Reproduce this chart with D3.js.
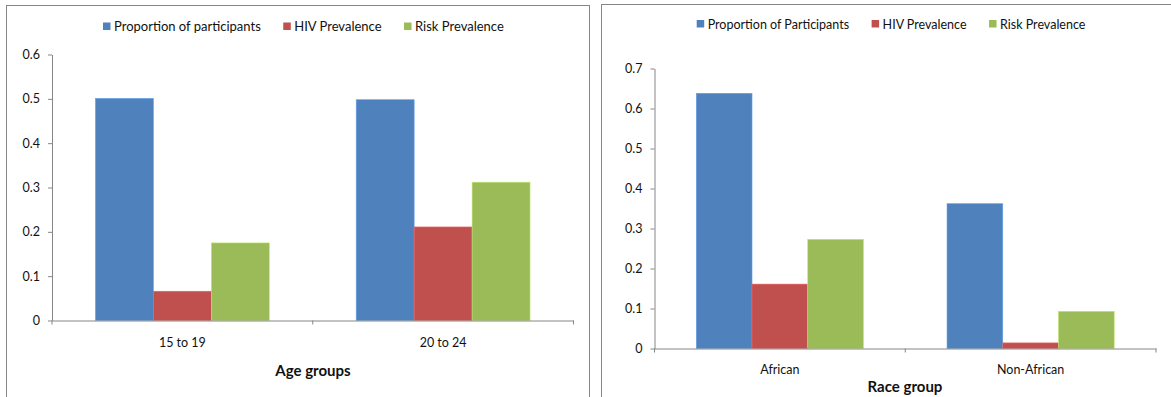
<!DOCTYPE html>
<html>
<head>
<meta charset="utf-8">
<script src="https://cdn.jsdelivr.net/npm/d3@7"></script>
<style>
  html, body { margin: 0; padding: 0; background: #fff; }
  svg { display: block; }
  text { font-family: Lato, "Open Sans", sans-serif; fill: #111; }
</style>
</head>
<body>
<svg id="chart" width="1171" height="397"></svg>
<script>
// Series names shared by both panels
const seriesNames = ["Proportion of participants", "HIV Prevalence", "Risk Prevalence"];
const seriesNamesRace = ["Proportion of Participants", "HIV Prevalence", "Risk Prevalence"];
const seriesColors = ["#4F81BD", "#C0504D", "#9BBB59"];

// Age panel
const ageGroups = ["15 to 19", "20 to 24"];
const ageProportion = [0.501, 0.498];
const ageHIV = [0.066, 0.211];
const ageRisk = [0.175, 0.312];
const ageTicks = [0, 0.1, 0.2, 0.3, 0.4, 0.5, 0.6];

// Race panel
const raceGroups = ["African", "Non-African"];
const raceProportion = [0.638, 0.362];
const raceHIV = [0.161, 0.014];
const raceRisk = [0.273, 0.093];
const raceTicks = [0, 0.1, 0.2, 0.3, 0.4, 0.5, 0.6, 0.7];

const svg = d3.select("#chart");
const axisColor = "#868686";

function drawPanel(cfg) {
  const g = svg.append("g");

  // outer frame
  g.append("rect")
    .attr("x", cfg.frame.x).attr("y", cfg.frame.y)
    .attr("width", cfg.frame.w).attr("height", cfg.frame.h)
    .attr("fill", "#fff").attr("stroke", axisColor).attr("stroke-width", 1);

  const x = d3.scaleBand().domain(cfg.categories).range([cfg.x0, cfg.x1]).padding(0);
  const xs = d3.scaleBand().domain(d3.range(cfg.series.length))
    .range([0, x.bandwidth()]).paddingInner(0).paddingOuter(0.75);
  const y = d3.scaleLinear().domain([0, d3.max(cfg.ticks)]).range([cfg.yZero, cfg.yTop]);

  // bars
  cfg.series.forEach((vals, si) => {
    g.append("g").selectAll("rect")
      .data(vals)
      .join("rect")
      .attr("x", (d, i) => x(cfg.categories[i]) + xs(si))
      .attr("width", xs.bandwidth())
      .attr("y", d => y(d))
      .attr("height", d => y(0) - y(d))
      .attr("fill", seriesColors[si])
      .attr("stroke", d3.color(seriesColors[si]).brighter(0.6))
      .attr("stroke-width", 0.6);
  });

  // y axis
  const yAxis = g.append("g")
    .attr("transform", `translate(${cfg.x0},0)`)
    .call(d3.axisLeft(y).tickValues(cfg.ticks).tickSize(4).tickSizeOuter(0)
      .tickPadding(8).tickFormat(d => d === 0 ? "0" : d3.format(".1f")(d)));
  yAxis.select(".domain").attr("stroke", axisColor);
  yAxis.selectAll(".tick line").attr("stroke", axisColor);
  yAxis.selectAll(".tick text").style("font-size", "12.5px").attr("fill", "#111");

  // x axis
  const xAxis = g.append("g")
    .attr("transform", `translate(0,${cfg.yZero})`)
    .call(d3.axisBottom(x).tickSize(0).tickSizeOuter(0).tickFormat(""));
  xAxis.select(".domain").attr("stroke", axisColor);
  xAxis.selectAll(".tick").remove();
  // boundary ticks between categories
  const bounds = [cfg.x0, ...cfg.categories.map(c => x(c) + x.bandwidth())];
  xAxis.selectAll("line.bound").data(bounds).join("line")
    .attr("class", "bound")
    .attr("x1", d => d).attr("x2", d => d)
    .attr("y1", 0).attr("y2", 4)
    .attr("stroke", axisColor);

  // category labels
  g.append("g").selectAll("text")
    .data(cfg.categories)
    .join("text")
    .attr("x", d => x(d) + x.bandwidth() / 2)
    .attr("y", cfg.catY)
    .attr("text-anchor", "middle")
    .style("font-size", "12.5px")
    .text(d => d);

  // axis title
  g.append("text")
    .attr("x", cfg.titleX)
    .attr("y", cfg.titleY)
    .attr("text-anchor", "middle")
    .style("font-size", "15px")
    .style("font-weight", "bold")
    .text(cfg.title);

  // legend
  let lx = cfg.legendX;
  cfg.names.forEach((name, i) => {
    g.append("rect")
      .attr("x", lx).attr("y", cfg.legendY - 4)
      .attr("width", 7.5).attr("height", 7.5)
      .attr("fill", seriesColors[i]);
    const t = g.append("text")
      .attr("x", lx + 11)
      .attr("y", cfg.legendY + 4.5)
      .style("font-size", cfg.legendSize)
      .text(name);
    lx += 11 + t.node().getComputedTextLength() + 22.5;
  });
}

drawPanel({
  frame: { x: 6.5, y: 5.5, w: 583, h: 420 },
  categories: ageGroups,
  series: [ageProportion, ageHIV, ageRisk],
  ticks: ageTicks,
  x0: 52, x1: 573.5, yZero: 320.5, yTop: 54.5,
  catY: 346.5, title: "Age groups", titleX: 313, titleY: 376,
  names: seriesNames, legendX: 103, legendY: 26.5, legendSize: "13px"
});

drawPanel({
  frame: { x: 601.5, y: 4.5, w: 600, h: 420 },
  categories: raceGroups,
  series: [raceProportion, raceHIV, raceRisk],
  ticks: raceTicks,
  x0: 654.5, x1: 1156, yZero: 348.5, yTop: 68.5,
  catY: 374, title: "Race group", titleX: 905, titleY: 392,
  names: seriesNamesRace, legendX: 696.7, legendY: 24, legendSize: "12.5px"
});
</script>
</body>
</html>
